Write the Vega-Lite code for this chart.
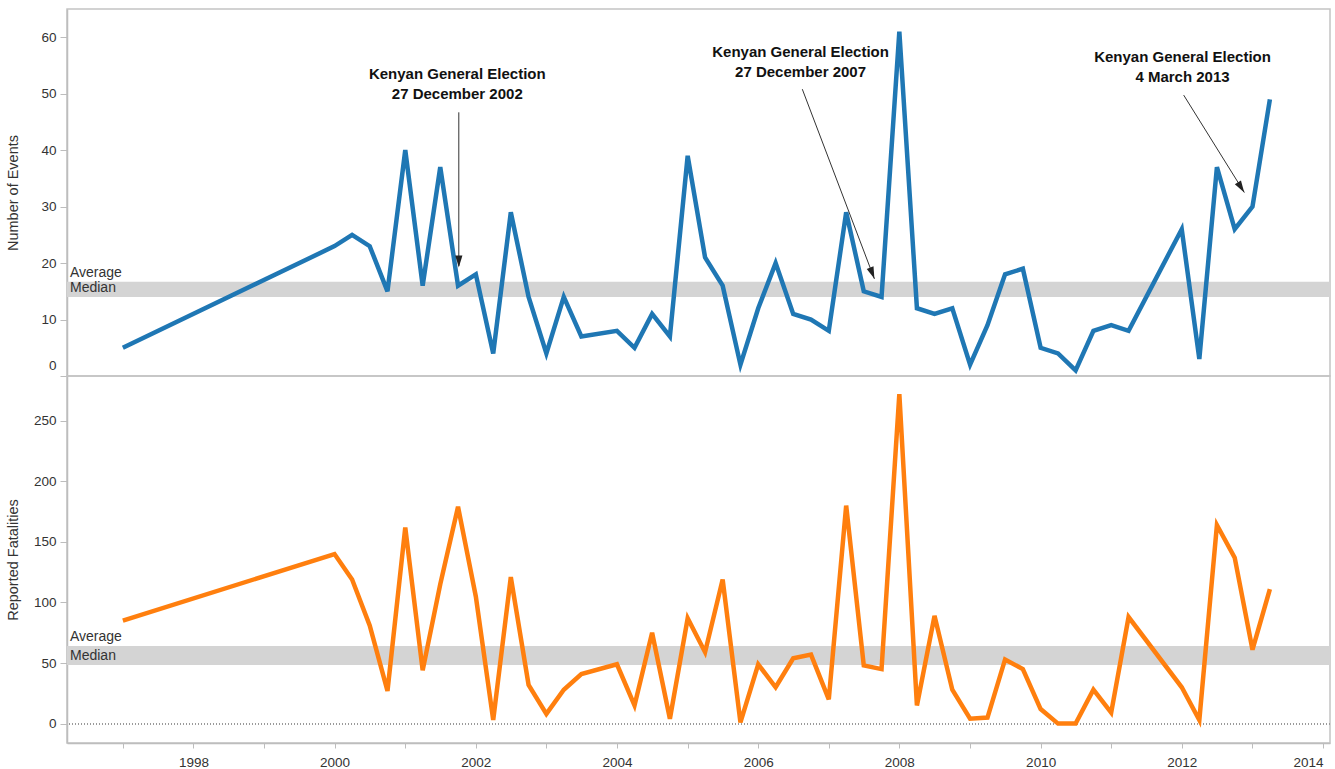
{
  "$schema": "https://vega.github.io/schema/vega-lite/v6.json",
  "background": "white",
  "padding": {"left": 4, "top": 8, "right": 5, "bottom": 5},
  "spacing": 0,
  "bounds": "flush",
  "datasets": {
    "kenya": [
      {"date": "1997-01-01", "events": 5, "fatalities": 85},
      {"date": "2000-01-01", "events": 23, "fatalities": 140},
      {"date": "2000-04-01", "events": 25, "fatalities": 119},
      {"date": "2000-07-01", "events": 23, "fatalities": 81},
      {"date": "2000-10-01", "events": 15, "fatalities": 27},
      {"date": "2001-01-01", "events": 40, "fatalities": 162},
      {"date": "2001-04-01", "events": 16, "fatalities": 44},
      {"date": "2001-07-01", "events": 37, "fatalities": 115},
      {"date": "2001-10-01", "events": 16, "fatalities": 179},
      {"date": "2002-01-01", "events": 18, "fatalities": 105},
      {"date": "2002-04-01", "events": 4, "fatalities": 3},
      {"date": "2002-07-01", "events": 29, "fatalities": 121},
      {"date": "2002-10-01", "events": 14, "fatalities": 32},
      {"date": "2003-01-01", "events": 4, "fatalities": 8},
      {"date": "2003-04-01", "events": 14, "fatalities": 28},
      {"date": "2003-07-01", "events": 7, "fatalities": 41},
      {"date": "2004-01-01", "events": 8, "fatalities": 49},
      {"date": "2004-04-01", "events": 5, "fatalities": 15},
      {"date": "2004-07-01", "events": 11, "fatalities": 75},
      {"date": "2004-10-01", "events": 7, "fatalities": 4},
      {"date": "2005-01-01", "events": 39, "fatalities": 87},
      {"date": "2005-04-01", "events": 21, "fatalities": 59},
      {"date": "2005-07-01", "events": 16, "fatalities": 119},
      {"date": "2005-10-01", "events": 2, "fatalities": 1},
      {"date": "2006-01-01", "events": 12, "fatalities": 49},
      {"date": "2006-04-01", "events": 20, "fatalities": 30},
      {"date": "2006-07-01", "events": 11, "fatalities": 54},
      {"date": "2006-10-01", "events": 10, "fatalities": 57},
      {"date": "2007-01-01", "events": 8, "fatalities": 20},
      {"date": "2007-04-01", "events": 29, "fatalities": 180},
      {"date": "2007-07-01", "events": 15, "fatalities": 48},
      {"date": "2007-10-01", "events": 14, "fatalities": 45},
      {"date": "2008-01-01", "events": 61, "fatalities": 272},
      {"date": "2008-04-01", "events": 12, "fatalities": 15},
      {"date": "2008-07-01", "events": 11, "fatalities": 89},
      {"date": "2008-10-01", "events": 12, "fatalities": 28},
      {"date": "2009-01-01", "events": 2, "fatalities": 4},
      {"date": "2009-04-01", "events": 9, "fatalities": 5},
      {"date": "2009-07-01", "events": 18, "fatalities": 53},
      {"date": "2009-10-01", "events": 19, "fatalities": 45},
      {"date": "2010-01-01", "events": 5, "fatalities": 12},
      {"date": "2010-04-01", "events": 4, "fatalities": 0},
      {"date": "2010-07-01", "events": 1, "fatalities": 0},
      {"date": "2010-10-01", "events": 8, "fatalities": 28},
      {"date": "2011-01-01", "events": 9, "fatalities": 9},
      {"date": "2011-04-01", "events": 8, "fatalities": 88},
      {"date": "2012-01-01", "events": 26, "fatalities": 30},
      {"date": "2012-04-01", "events": 3, "fatalities": 3},
      {"date": "2012-07-01", "events": 37, "fatalities": 164},
      {"date": "2012-10-01", "events": 26, "fatalities": 137},
      {"date": "2013-01-01", "events": 30, "fatalities": 61},
      {"date": "2013-04-01", "events": 49, "fatalities": 111}
    ]
  },
  "vconcat": [
    {
      "width": 1263,
      "height": 367,
      "data": {"name": "kenya"},
      "layer": [
        {
          "transform": [{"aggregate": [{"op": "mean", "field": "events", "as": "ev_avg"}, {"op": "median", "field": "events", "as": "ev_med"}]}],
          "mark": {"type": "rect", "color": "#d4d4d4"},
          "encoding": {
            "y": {"field": "ev_avg", "type": "quantitative", "scale": {"domain": [0, 65], "nice": false, "zero": false}},
            "y2": {"field": "ev_med"}
          }
        },
        {
          "transform": [{"aggregate": [{"op": "mean", "field": "events", "as": "ev_avg2"}]}],
          "mark": {"type": "text", "text": "Average", "align": "left", "baseline": "bottom", "dx": 3, "dy": -2, "fontSize": 14, "font": "Liberation Sans", "color": "#333"},
          "encoding": {
            "x": {"datum": {"year": 1996, "month": 3, "date": 18, "utc": true}, "type": "temporal", "scale": {"type": "utc", "domain": [{"year": 1996, "month": 3, "date": 18, "utc": true}, {"year": 2014, "month": 2, "date": 6, "utc": true}]}, "axis": null},
            "y": {"field": "ev_avg2", "type": "quantitative"}
          }
        },
        {
          "transform": [{"aggregate": [{"op": "median", "field": "events", "as": "ev_med2"}]}],
          "mark": {"type": "text", "text": "Median", "align": "left", "baseline": "bottom", "dx": 3, "dy": -2, "fontSize": 14, "font": "Liberation Sans", "color": "#333"},
          "encoding": {
            "x": {"datum": {"year": 1996, "month": 3, "date": 18, "utc": true}, "type": "temporal", "axis": null},
            "y": {"field": "ev_med2", "type": "quantitative"}
          }
        },
        {
          "mark": {"type": "line", "color": "#1f77b4", "strokeWidth": 4.5},
          "encoding": {
            "x": {"field": "date", "type": "temporal", "scale": {"type": "utc", "domain": [{"year": 1996, "month": 3, "date": 18, "utc": true}, {"year": 2014, "month": 2, "date": 6, "utc": true}]}, "axis": null},
            "y": {"field": "events", "type": "quantitative", "scale": {"domain": [0, 65], "nice": false, "zero": false},
                  "axis": {"title": "Number of Events", "values": [0, 10, 20, 30, 40, 50, 60], "titleX": -47, "labelFlush": 3, "labelFlushOffset": -4}}
          }
        },
        {
          "data": {"values": [
            {"d": "2001-10-05", "d2": "2001-10-05", "v": 46.7, "v2": 19.5},
            {"d": "2006-08-17", "d2": "2007-08-25", "v": 50.8, "v2": 17.2},
            {"d": "2012-01-11", "d2": "2012-11-20", "v": 49.75, "v2": 32.5}
          ]},
          "mark": {"type": "rule", "color": "#333", "strokeWidth": 1},
          "encoding": {
            "x": {"field": "d", "type": "temporal", "axis": null},
            "x2": {"field": "d2"},
            "y": {"field": "v", "type": "quantitative"},
            "y2": {"field": "v2"}
          }
        },
        {
          "data": {"values": [{"d": "2001-10-05", "v": 20.3}]},
          "mark": {"type": "point", "shape": "M0,1L-0.6,-1L0.6,-1Z", "size": 144, "filled": true, "color": "#222", "opacity": 1, "angle": 0},
          "encoding": {
            "x": {"field": "d", "type": "temporal", "axis": null},
            "y": {"field": "v", "type": "quantitative"}
          }
        },
        {
          "data": {"values": [{"d": "2007-08-14", "v": 18.2}]},
          "mark": {"type": "point", "shape": "M0,1L-0.6,-1L0.6,-1Z", "size": 144, "filled": true, "color": "#222", "opacity": 1, "angle": 339},
          "encoding": {
            "x": {"field": "d", "type": "temporal", "axis": null},
            "y": {"field": "v", "type": "quantitative"}
          }
        },
        {
          "data": {"values": [{"d": "2012-11-03", "v": 33.4}]},
          "mark": {"type": "point", "shape": "M0,1L-0.6,-1L0.6,-1Z", "size": 144, "filled": true, "color": "#222", "opacity": 1, "angle": 328},
          "encoding": {
            "x": {"field": "d", "type": "temporal", "axis": null},
            "y": {"field": "v", "type": "quantitative"}
          }
        },
        {
          "data": {"values": [
            {"d": "2001-09-27", "v": 53.4, "label": "Kenyan General Election\n27 December 2002"},
            {"d": "2006-08-08", "v": 57.4, "label": "Kenyan General Election\n27 December 2007"},
            {"d": "2012-01-05", "v": 56.5, "label": "Kenyan General Election\n4 March 2013"}
          ]},
          "mark": {"type": "text", "lineBreak": "\n", "align": "center", "baseline": "middle", "fontSize": 15, "fontWeight": "bold", "font": "Liberation Sans", "lineHeight": 20, "color": "#111"},
          "encoding": {
            "x": {"field": "d", "type": "temporal", "axis": null},
            "y": {"field": "v", "type": "quantitative"},
            "text": {"field": "label"}
          }
        }
      ]
    },
    {
      "width": 1263,
      "height": 367,
      "data": {"name": "kenya"},
      "layer": [
        {
          "transform": [{"aggregate": [{"op": "mean", "field": "fatalities", "as": "fa_avg"}, {"op": "median", "field": "fatalities", "as": "fa_med"}]}],
          "mark": {"type": "rect", "color": "#d4d4d4"},
          "encoding": {
            "y": {"field": "fa_avg", "type": "quantitative", "scale": {"domain": [-16, 287], "nice": false, "zero": false}},
            "y2": {"field": "fa_med"}
          }
        },
        {
          "transform": [{"aggregate": [{"op": "mean", "field": "fatalities", "as": "fa_avg2"}]}],
          "mark": {"type": "text", "text": "Average", "align": "left", "baseline": "bottom", "dx": 3, "dy": -2, "fontSize": 14, "font": "Liberation Sans", "color": "#333"},
          "encoding": {
            "x": {"datum": {"year": 1996, "month": 3, "date": 18, "utc": true}, "type": "temporal"},
            "y": {"field": "fa_avg2", "type": "quantitative"}
          }
        },
        {
          "transform": [{"aggregate": [{"op": "median", "field": "fatalities", "as": "fa_med2"}]}],
          "mark": {"type": "text", "text": "Median", "align": "left", "baseline": "bottom", "dx": 3, "dy": -2, "fontSize": 14, "font": "Liberation Sans", "color": "#333"},
          "encoding": {
            "x": {"datum": {"year": 1996, "month": 3, "date": 18, "utc": true}, "type": "temporal"},
            "y": {"field": "fa_med2", "type": "quantitative"}
          }
        },
        {
          "mark": {"type": "rule", "color": "#9a9a9a", "strokeDash": [1, 2], "strokeWidth": 1},
          "encoding": {
            "y": {"datum": 0, "type": "quantitative"}
          }
        },
        {
          "mark": {"type": "line", "color": "#ff7f0e", "strokeWidth": 4.5},
          "encoding": {
            "x": {"field": "date", "type": "temporal",
                  "scale": {"type": "utc", "domain": [{"year": 1996, "month": 3, "date": 18, "utc": true}, {"year": 2014, "month": 2, "date": 6, "utc": true}]},
                  "axis": {"title": null,
                           "values": [
                             {"year": 1997, "month": 1, "date": 1, "utc": true}, {"year": 1998, "month": 1, "date": 1, "utc": true},
                             {"year": 1999, "month": 1, "date": 1, "utc": true}, {"year": 2000, "month": 1, "date": 1, "utc": true},
                             {"year": 2001, "month": 1, "date": 1, "utc": true}, {"year": 2002, "month": 1, "date": 1, "utc": true},
                             {"year": 2003, "month": 1, "date": 1, "utc": true}, {"year": 2004, "month": 1, "date": 1, "utc": true},
                             {"year": 2005, "month": 1, "date": 1, "utc": true}, {"year": 2006, "month": 1, "date": 1, "utc": true},
                             {"year": 2007, "month": 1, "date": 1, "utc": true}, {"year": 2008, "month": 1, "date": 1, "utc": true},
                             {"year": 2009, "month": 1, "date": 1, "utc": true}, {"year": 2010, "month": 1, "date": 1, "utc": true},
                             {"year": 2011, "month": 1, "date": 1, "utc": true}, {"year": 2012, "month": 1, "date": 1, "utc": true},
                             {"year": 2013, "month": 1, "date": 1, "utc": true}, {"year": 2014, "month": 1, "date": 1, "utc": true}
                           ],
                           "labelExpr": "utcyear(datum.value) % 2 == 0 ? utcFormat(datum.value, '%Y') : ''",
                           "tickSize": 5, "labelPadding": 7, "labelFlush": 10}},
            "y": {"field": "fatalities", "type": "quantitative", "scale": {"domain": [-16, 287], "nice": false, "zero": false},
                  "axis": {"title": "Reported Fatalities", "values": [0, 50, 100, 150, 200, 250], "titleX": -47}}
          }
        }
      ]
    }
  ],
  "config": {
    "view": {"stroke": "#c4c4c4", "strokeWidth": 1.5},
    "axis": {
      "labelFont": "Liberation Sans", "titleFont": "Liberation Sans",
      "labelFontSize": 13.5, "titleFontSize": 14.5, "titleFontWeight": "normal",
      "labelColor": "#333", "titleColor": "#333",
      "domainColor": "#bdbdbd", "domainWidth": 1.5, "tickColor": "#bdbdbd", "tickSize": 7, "labelPadding": 4,
      "grid": false
    }
  }
}
